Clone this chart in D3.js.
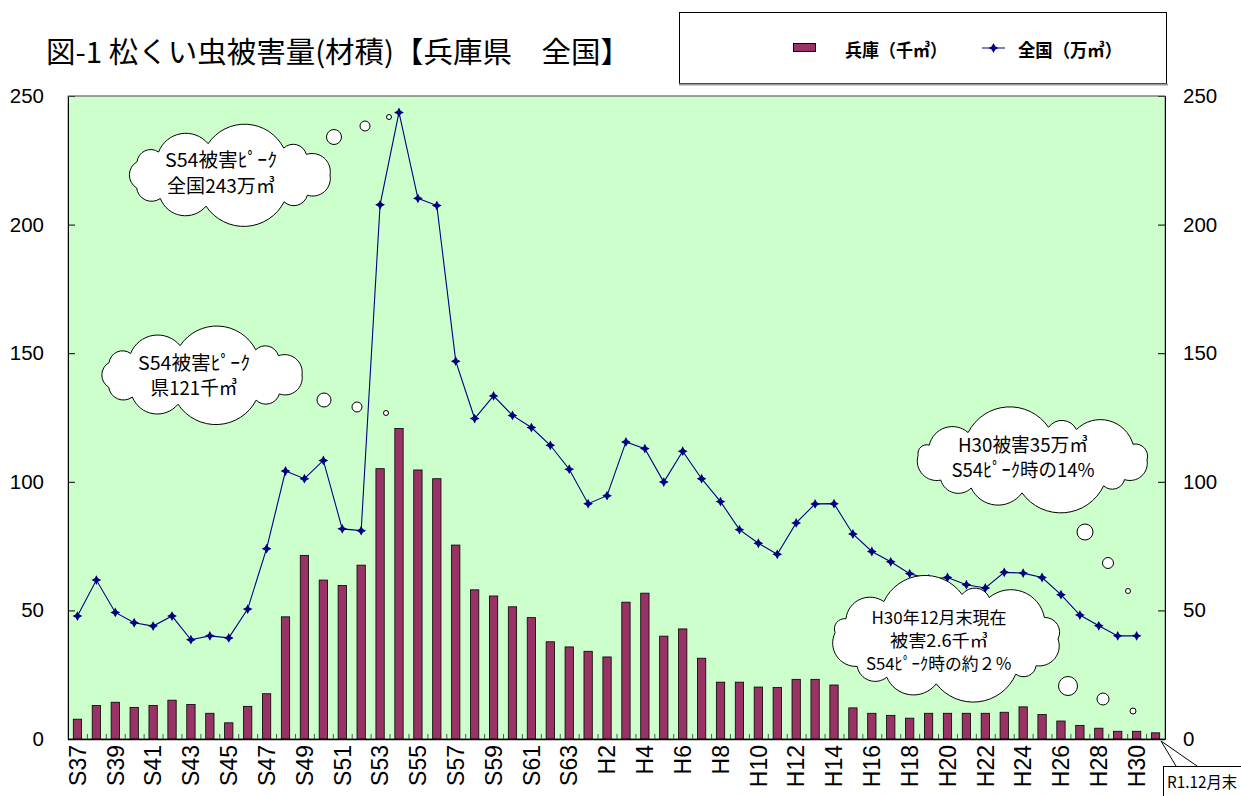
<!DOCTYPE html>
<html>
<head>
<meta charset="utf-8">
<script src="https://cdn.jsdelivr.net/npm/d3@7"></script>
<style>
  body { margin: 0; background: #fff; }
  svg { display: block; }
</style>
</head>
<body>
<div id="chart"></div>
<script>
// categories: 昭和37年 ~ 平成30年, 令和元年12月末
const years = [
  'S37','S38','S39','S40','S41','S42','S43','S44','S45','S46','S47','S48','S49','S50',
  'S51','S52','S53','S54','S55','S56','S57','S58','S59','S60','S61','S62','S63',
  'H1','H2','H3','H4','H5','H6','H7','H8','H9','H10','H11','H12','H13','H14','H15',
  'H16','H17','H18','H19','H20','H21','H22','H23','H24','H25','H26','H27','H28','H29','H30',
  'R1'
];

// 兵庫 (千m3)
const hyogo = [
  7.7, 13.0, 14.3, 12.3, 13.0, 15.1, 13.4, 10.0, 6.3, 12.7, 17.6, 47.5, 71.4, 61.8,
  59.7, 67.6, 105.1, 120.7, 104.6, 101.2, 75.4, 58.0, 55.6, 51.4, 47.2, 37.8, 35.8,
  34.1, 31.9, 53.2, 56.7, 40.0, 42.8, 31.4, 22.1, 22.1, 20.2, 20.0, 23.2, 23.2, 21.0, 12.1,
  10.0, 9.2, 8.1, 10.0, 10.0, 10.0, 10.0, 10.4, 12.5, 9.5, 7.0, 5.3, 4.2, 3.0, 3.0,
  2.4
];

// 全国 (万m3), no value for R1
const zenkoku = [
  47.8, 61.8, 49.2, 45.2, 43.9, 47.8, 38.6, 40.1, 39.3, 50.5, 74.0, 104.2, 101.2, 108.3,
  81.7, 81.0, 207.7, 243.6, 210.2, 207.4, 146.9, 124.6, 133.4, 125.8, 121.1, 114.2, 104.9,
  91.5, 94.6, 115.5, 112.9, 99.9, 111.9, 101.2, 92.3, 81.4, 76.1, 71.8, 84.0, 91.4, 91.5, 79.7,
  72.9, 68.9, 64.3, 62.2, 62.8, 60.0, 58.7, 64.8, 64.5, 62.8, 56.1, 48.2, 44.0, 40.1, 40.1,
  null
];

const yTicks = [0, 50, 100, 150, 200, 250];

const W = 1241, H = 796;
const plot = {left: 68, right: 1165, top: 96, bottom: 739};
const jp = '"Noto Sans CJK JP", sans-serif';
const num = '"Liberation Sans", Arial, sans-serif';

const svg = d3.select('#chart').append('svg')
  .attr('width', W)
  .attr('height', H);

// scales
const x = d3.scaleBand()
  .domain(years)
  .range([plot.left, plot.right])
  .paddingInner(0.56)
  .paddingOuter(0.28);

const xIdx = d3.scaleLinear()
  .domain([0, years.length])
  .range([plot.left, plot.right]);

const y = d3.scaleLinear()
  .domain([0, 250])
  .range([plot.bottom, plot.top]);

const cx = d => x(d) + x.bandwidth() / 2;

// title
svg.append('text')
  .attr('x', 46)
  .attr('y', 63)
  .attr('textLength', 584)
  .attr('lengthAdjust', 'spacingAndGlyphs')
  .style('font-family', jp)
  .style('font-size', '29px')
  .text('図-1 松くい虫被害量(材積)【兵庫県　全国】');

// legend box
svg.append('rect')
  .attr('x', 679.5).attr('y', 12.5)
  .attr('width', 487).attr('height', 71)
  .attr('fill', '#fff')
  .attr('stroke', '#000');
svg.append('line')
  .attr('x1', 679).attr('x2', 1168)
  .attr('y1', 84.5).attr('y2', 84.5)
  .attr('stroke', '#999').attr('stroke-width', 2);

svg.append('rect')
  .attr('x', 793.5).attr('y', 43.5)
  .attr('width', 22).attr('height', 8)
  .attr('fill', '#993366')
  .attr('stroke', '#000');
svg.append('text')
  .attr('x', 845).attr('y', 49)
  .attr('dominant-baseline', 'central')
  .attr('textLength', 102)
  .attr('lengthAdjust', 'spacingAndGlyphs')
  .style('font-family', jp).style('font-size', '18px').style('font-weight', 'bold')
  .text('兵庫（千㎥）');

// 4-point star marker
const star4 = {
  draw(ctx, size) {
    const r = Math.sqrt(size), ri = r * 0.35;
    ctx.moveTo(0, -r);
    ctx.lineTo(ri, -ri);
    ctx.lineTo(r, 0);
    ctx.lineTo(ri, ri);
    ctx.lineTo(0, r);
    ctx.lineTo(-ri, ri);
    ctx.lineTo(-r, 0);
    ctx.lineTo(-ri, -ri);
    ctx.closePath();
  }
};
const marker = d3.symbol().type(star4).size(24);

svg.append('line')
  .attr('x1', 982).attr('x2', 1005)
  .attr('y1', 48).attr('y2', 48)
  .attr('stroke', '#000080');
svg.append('path')
  .attr('d', marker())
  .attr('transform', 'translate(993.5,48)')
  .attr('fill', '#000080');
svg.append('text')
  .attr('x', 1018).attr('y', 49)
  .attr('dominant-baseline', 'central')
  .attr('textLength', 104)
  .attr('lengthAdjust', 'spacingAndGlyphs')
  .style('font-family', jp).style('font-size', '18px').style('font-weight', 'bold')
  .text('全国（万㎥）');

// plot background
svg.append('rect')
  .attr('x', plot.left).attr('y', plot.top)
  .attr('width', plot.right - plot.left)
  .attr('height', plot.bottom - plot.top)
  .attr('fill', '#CCFFCC')
  .attr('stroke', '#808080');

// bars
svg.append('g')
  .selectAll('rect')
  .data(years.map((d, i) => ({year: d, v: hyogo[i]})))
  .join('rect')
  .attr('x', d => x(d.year))
  .attr('y', d => y(d.v))
  .attr('width', x.bandwidth())
  .attr('height', d => y(0) - y(d.v))
  .attr('fill', '#993366')
  .attr('stroke', '#000')
  .attr('stroke-width', 0.8);

// x minor ticks at category borders
svg.append('g')
  .attr('transform', `translate(0,${plot.bottom})`)
  .call(d3.axisBottom(xIdx).tickValues(d3.range(1, years.length)).tickSize(-5).tickFormat(''))
  .call(g => g.select('.domain').remove())
  .call(g => g.selectAll('line').attr('stroke', '#555'));

// x labels
svg.append('g')
  .attr('transform', `translate(0,${plot.bottom})`)
  .call(d3.axisBottom(x)
    .tickValues(years.filter((d, i) => i % 2 === 0 && d !== 'R1'))
    .tickSize(0))
  .call(g => g.select('.domain').remove())
  .call(g => g.selectAll('text')
    .attr('transform', 'rotate(-90)')
    .attr('x', -6)
    .attr('y', 0)
    .attr('dy', '0.36em')
    .attr('text-anchor', 'end')
    .style('font-family', num)
    .style('font-size', '23px')
    .attr('fill', '#000'));

// y axes (left and right share the same scale)
svg.append('g')
  .attr('transform', `translate(${plot.left},0)`)
  .call(d3.axisLeft(y).tickValues(yTicks).tickSize(-7).tickPadding(24))
  .call(g => g.selectAll('text').style('font-family', num).style('font-size', '20.5px'));

svg.append('g')
  .attr('transform', `translate(${plot.right},0)`)
  .call(d3.axisRight(y).tickValues(yTicks).tickSize(-7).tickPadding(18))
  .call(g => g.selectAll('text').style('font-family', num).style('font-size', '20.5px'));

svg.selectAll('.domain').attr('stroke', '#000');
// restore grey top edge
svg.append('line')
  .attr('x1', plot.left).attr('x2', plot.right)
  .attr('y1', plot.top).attr('y2', plot.top)
  .attr('stroke', '#808080');

svg.append('line')
  .attr('x1', plot.left).attr('x2', plot.right)
  .attr('y1', plot.bottom + 0.5).attr('y2', plot.bottom + 0.5)
  .attr('stroke', '#000').attr('stroke-width', 1.5);

// national line
const pts = years.map((d, i) => ({year: d, v: zenkoku[i]})).filter(d => d.v != null);

svg.append('path')
  .datum(pts)
  .attr('fill', 'none')
  .attr('stroke', '#000080')
  .attr('stroke-width', 1.1)
  .attr('d', d3.line().x(d => cx(d.year)).y(d => y(d.v)));

svg.append('g')
  .selectAll('path')
  .data(pts)
  .join('path')
  .attr('d', marker())
  .attr('transform', d => `translate(${cx(d.year)},${y(d.v)})`)
  .attr('fill', '#000080');

// thought-bubble callouts
function cloudPath(cx0, cy0, hw, hh, n) {
  const rx = hw - 5, ry = hh - 13;
  const pts = d3.range(n).map(k => {
    const a = Math.PI * 2 * k / n + 0.15 * Math.sin(k * 2.3);
    return [cx0 + rx * Math.cos(a), cy0 + ry * Math.sin(a)];
  });
  let p = `M${pts[0][0]},${pts[0][1]}`;
  pts.forEach((q, k) => {
    const nx = pts[(k + 1) % n];
    const chord = Math.hypot(nx[0] - q[0], nx[1] - q[1]);
    const r = chord * 0.58;
    p += `A${r},${r} 0 0 1 ${nx[0]},${nx[1]}`;
  });
  return p + 'Z';
}

const clouds = [
  {cx: 229, cy: 175, hw: 106, hh: 45, n: 11, tx: 221, fs: 19,
    lines: [['S54被害ﾋﾟｰｸ', 112], ['全国243万㎥', 108]], ly: [158, 184],
    bubbles: [[334, 137, 7.5], [365, 126, 5], [389, 117, 2.5]]},
  {cx: 201, cy: 375, hw: 106, hh: 43, n: 11, tx: 194, fs: 19,
    lines: [['S54被害ﾋﾟｰｸ', 112], ['県121千㎥', 87]], ly: [361, 386],
    bubbles: [[324, 400, 7], [357, 407, 5], [386, 413, 2.5]]},
  {cx: 1032, cy: 460, hw: 120, hh: 46, n: 12, tx: 1023, fs: 19,
    lines: [['H30被害35万㎥', 130], ['S54ﾋﾟｰｸ時の14%', 143]], ly: [443, 468],
    bubbles: [[1085, 532, 8], [1108, 563, 5.5], [1128, 591, 2.5]]},
  {cx: 946, cy: 639, hw: 117, hh: 58, n: 12, tx: 939, fs: 17,
    lines: [['H30年12月末現在', 135], ['被害2.6千㎥', 98], ['S54ﾋﾟｰｸ時の約２％', 146]], ly: [616, 639, 662],
    bubbles: [[1068, 686, 9.5], [1103, 699, 6], [1133, 711, 3]]}
];

clouds.forEach(c => {
  const g = svg.append('g');
  g.append('path')
    .attr('d', cloudPath(c.cx, c.cy, c.hw, c.hh, c.n))
    .attr('fill', '#fff')
    .attr('stroke', '#000')
    .attr('stroke-width', 1);
  c.bubbles.forEach(b => {
    g.append('circle')
      .attr('cx', b[0]).attr('cy', b[1]).attr('r', b[2])
      .attr('fill', '#fff').attr('stroke', '#000');
  });
  c.lines.forEach((l, i) => {
    g.append('text')
      .attr('x', c.tx - l[1] / 2)
      .attr('y', c.ly[i])
      .attr('dominant-baseline', 'central')
      .attr('textLength', l[1])
      .attr('lengthAdjust', 'spacingAndGlyphs')
      .style('font-family', jp)
      .style('font-size', c.fs + 'px')
      .text(l[0]);
  });
});

// R1.12月末 callout
svg.append('path')
  .attr('d', 'M1176,766 L1161,741 L1197,766')
  .attr('fill', 'none')
  .attr('stroke', '#000');
svg.append('rect')
  .attr('x', 1163.5).attr('y', 766.5)
  .attr('width', 90).attr('height', 40)
  .attr('fill', '#fff')
  .attr('stroke', '#000');
svg.append('text')
  .attr('x', 1167).attr('y', 788)
  .attr('textLength', 70)
  .attr('lengthAdjust', 'spacingAndGlyphs')
  .style('font-family', jp)
  .style('font-size', '16px')
  .text('R1.12月末');
</script>
</body>
</html>
